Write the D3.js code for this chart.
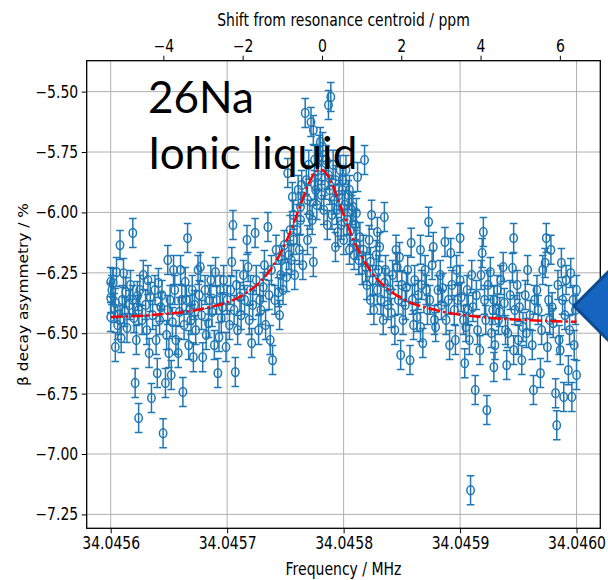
<!DOCTYPE html>
<html>
<head>
<meta charset="utf-8">
<script src="https://cdn.jsdelivr.net/npm/d3@7"></script>
<style>
  body { margin: 0; background: #fff; }
  svg { display: block; font-family: "DejaVu Sans", sans-serif; }
  /* the source figure was stretched a little vertically when pasted */
  .tall { transform-box: fill-box; transform-origin: center; transform: scaleY(1.22); }
  .long { transform-box: fill-box; transform-origin: center; transform: scaleX(1.1); }
</style>
</head>
<body>
<svg id="chart"></svg>
<script>
// values
const baseFreqMHz = 34.0456;   // offsets below are in Hz above this frequency
const centroidHz = 181.4;      // resonance centroid (0 ppm on the top axis)
const errBar = 0.06;           // error bar half-length, %

const freqTicks = [34.0456, 34.0457, 34.0458, 34.0459, 34.0460];
const ppmTicks = [-4, -2, 0, 2, 4, 6];
const asymTicks = [-5.50, -5.75, -6.00, -6.25, -6.50, -6.75, -7.00, -7.25];
const labelLines = ['26Na', 'Ionic liquid'];

// [offset Hz, asymmetry %]
const scanPoints = [
  [0,-6.288],[0,-6.354],[0,-6.433],[1,-6.321],[2,-6.292],[3,-6.396],[4,-6.375],[4,-6.557],[5,-6.247],[6,-6.466],
  [8,-6.135],[8,-6.445],[9,-6.520],[10,-6.362],[11,-6.251],[12,-6.412],[13,-6.330],[14,-6.478],[16,-6.383],[17,-6.300],
  [19,-6.085],[19,-6.362],[20,-6.437],[21,-6.706],[22,-6.528],[23,-6.346],[24,-6.851],[24,-6.404],[25,-6.321],
  [27,-6.445],[28,-6.259],[30,-6.383],[31,-6.487],[32,-6.280],[33,-6.582],[34,-6.350],[35,-6.768],[36,-6.425],[38,-6.321],
  [39,-6.528],[40,-6.665],[41,-6.292],[42,-6.445],[43,-6.392],[44,-6.342],[45,-6.914],[47,-6.706],[48,-6.507],[49,-6.404],
  [49,-6.197],[50,-6.582],[51,-6.362],[52,-6.673],[53,-6.454],[54,-6.238],[55,-6.321],[56,-6.528],[58,-6.582],[59,-6.412],[60,-6.238],
  [61,-6.362],[62,-6.743],[63,-6.466],[64,-6.288],[65,-6.362],[66,-6.106],[67,-6.549],[68,-6.404],[69,-6.445],[70,-6.321],
  [71,-6.599],[72,-6.383],[73,-6.487],[75,-6.238],[76,-6.342],[77,-6.226],[78,-6.425],[79,-6.599],[81,-6.321],[82,-6.507],
  [84,-6.458],[85,-6.362],[86,-6.280],[87,-6.412],[89,-6.549],[90,-6.247],[91,-6.362],[92,-6.665],[93,-6.516],[94,-6.321],
  [95,-6.437],[96,-6.392],[97,-6.280],[99,-6.557],[100,-6.362],[102,-6.466],[103,-6.321],
  [104,-6.205],[105,-6.052],[106,-6.404],[107,-6.661],[108,-6.300],[109,-6.487],[111,-6.350],[112,-6.425],[114,-6.259],[115,-6.362],
  [117,-6.114],[118,-6.226],[119,-6.445],[120,-6.321],[121,-6.541],[122,-6.383],[124,-6.085],[125,-6.280],[127,-6.487],[128,-6.362],
  [129,-6.404],[131,-6.309],[132,-6.218],[133,-6.466],[135,-6.060],[136,-6.342],[137,-6.528],[138,-6.238],[139,-6.611],[141,-6.362],
  [142,-6.155],[144,-6.330],[145,-6.425],[146,-6.259],[147,-6.197],[148,-6.321],[149,-6.135],
  [151,-6.267],[152,-5.837],[153,-6.176],[154,-6.073],[155,-6.197],[156,-5.936],[157,-6.114],[157,-6.010],[158,-6.259],[160,-6.073],
  [161,-5.907],[162,-6.155],[163,-5.977],[163,-6.031],[164,-5.886],[165,-6.218],[167,-5.588],[168,-5.866],[169,-5.948],[169,-6.114],
  [170,-5.803],[171,-6.010],[172,-5.626],[173,-6.031],[174,-6.205],[174,-5.659],[175,-5.886],[175,-5.783],[176,-5.907],[177,-5.969],
  [178,-5.845],[179,-5.741],[180,-5.708],[181,-5.928],[181,-5.824],[182,-5.729],[183,-5.990],[184,-5.886],[185,-5.783],[186,-6.052],
  [187,-5.555],[187,-5.845],[188,-5.907],[189,-5.522],[190,-6.010],[191,-5.803],[192,-5.948],[193,-6.143],[193,-5.866],[194,-5.990],
  [195,-6.081],[196,-5.928],[197,-5.824],[198,-6.052],[199,-5.907],[199,-5.866],[200,-6.114],[201,-5.969],[202,-5.824],[203,-6.031],
  [204,-5.928],[205,-6.155],[205,-5.907],[206,-6.073],[207,-5.990],[208,-5.977],[209,-6.176],[210,-6.052],[211,-6.002],[211,-6.135],
  [212,-5.853],[213,-6.197],[214,-6.102],
  [216,-6.238],[217,-6.155],[218,-5.783],[219,-6.226],[220,-6.300],[222,-6.114],[223,-6.362],[223,-6.205],[224,-6.010],[225,-6.280],
  [226,-6.404],[228,-6.176],[229,-6.321],[229,-6.081],[230,-6.238],[231,-6.143],[232,-6.362],[234,-6.445],[235,-6.292],[235,-6.019],
  [236,-6.238],[238,-6.383],[240,-6.321],[241,-6.416],[242,-6.259],[244,-6.487],[245,-6.155],[246,-6.226],[247,-6.362],[248,-6.185],
  [249,-6.590],[250,-6.300],[251,-6.445],[253,-6.383],[254,-6.309],[255,-6.238],[257,-6.611],[258,-6.126],[259,-6.362],[260,-6.466],
  [261,-6.280],[263,-6.433],[264,-6.342],[266,-6.155],
  [266,-6.474],[267,-6.300],[268,-6.541],[270,-6.238],[271,-6.321],[272,-6.404],[273,-6.039],[274,-6.362],[276,-6.218],[277,-6.143],
  [278,-6.445],[279,-6.474],[281,-6.321],[283,-6.259],[284,-6.383],[285,-6.313],[287,-6.122],[288,-6.445],[290,-6.362],[291,-6.549],
  [292,-6.168],[293,-6.300],[295,-6.404],[296,-6.528],[297,-6.238],[298,-6.362],[300,-6.106],[300,-6.280],[301,-6.350],[303,-6.445],
  [304,-6.624],[305,-6.474],[306,-6.321],[307,-6.404],[308,-6.528],[309,-7.150],[310,-6.259],[311,-6.392],[313,-6.735],[314,-6.342],
  [315,-6.487],[317,-6.570],[318,-6.259],
  [319,-6.168],[320,-6.081],[321,-6.362],[322,-6.445],[323,-6.818],[324,-6.300],[326,-6.247],[327,-6.499],[328,-6.404],[329,-6.640],
  [329,-6.362],[330,-6.549],[332,-6.321],[333,-6.445],[334,-6.412],[335,-6.280],[337,-6.226],[338,-6.375],[339,-6.487],[340,-6.632],
  [341,-6.499],[343,-6.342],[345,-6.230],[346,-6.106],[346,-6.570],[347,-6.404],[349,-6.300],[350,-6.528],[351,-6.392],[353,-6.611],
  [354,-6.474],[356,-6.342],[357,-6.499],[358,-6.238],[360,-6.425],[362,-6.549],[363,-6.735],[364,-6.362],[366,-6.321],[367,-6.404],[369,-6.665],
  [370,-6.487],[371,-6.238],[373,-6.209],[374,-6.106],[375,-6.557],[376,-6.362],[377,-6.445],[378,-6.155],[379,-6.392],[380,-6.458],
  [382,-6.748],[383,-6.881],[384,-6.300],[385,-6.528],[386,-6.570],[387,-6.209],[388,-6.362],[389,-6.764],[390,-6.425],[391,-6.280],
  [393,-6.653],[394,-6.487],[395,-6.251],[396,-6.764],[397,-6.362],[398,-6.549],[399,-6.404],[400,-6.673],[400,-6.321]
];

// red fit line, sampled off the figure: [offset Hz, asymmetry %]
const fitCurve = [
  [0,-6.433],[40,-6.423],[80,-6.398],[110,-6.351],[125,-6.302],[135,-6.251],[145,-6.176],[150,-6.128],[155,-6.071],
  [160,-6.008],[165,-5.942],[170,-5.881],[175,-5.837],[180,-5.822],[185,-5.838],[190,-5.882],[195,-5.943],[200,-6.009],
  [205,-6.073],[210,-6.130],[215,-6.178],[225,-6.254],[235,-6.305],[250,-6.356],[280,-6.405],[320,-6.434],[360,-6.446],[400,-6.453]
];

class ResonanceChart {
  constructor(config_) {
    this.config = {
      svgElement: config_.svgElement,
      width: config_.width,
      height: config_.height,
      margin: config_.margin
    };
    this.initVis();
  }

  initVis() {
    const vis = this;
    vis.width = vis.config.width - vis.config.margin.left - vis.config.margin.right;
    vis.height = vis.config.height - vis.config.margin.top - vis.config.margin.bottom;

    vis.toMHz = hz => baseFreqMHz + hz * 1e-6;
    vis.toPpm = mhz => (mhz - vis.toMHz(centroidHz)) / vis.toMHz(centroidHz) * 1e6;

    vis.xScale = d3.scaleLinear()
      .domain([vis.toMHz(-20.6), vis.toMHz(420.4)])
      .range([0, vis.width]);
    vis.ppmScale = d3.scaleLinear()
      .domain(vis.xScale.domain().map(vis.toPpm))
      .range([0, vis.width]);
    vis.yScale = d3.scaleLinear()
      .domain([-7.3075, -5.372])
      .range([vis.height, 0]);

    vis.svg = d3.select(vis.config.svgElement)
      .attr('width', vis.config.width)
      .attr('height', vis.config.height);

    vis.chart = vis.svg.append('g')
      .attr('transform', `translate(${vis.config.margin.left},${vis.config.margin.top})`);

    vis.renderVis();
  }

  renderVis() {
    const vis = this;
    const blue = '#1f77b4';

    // grid
    vis.chart.append('g').selectAll('line')
      .data(freqTicks)
      .join('line')
      .attr('x1', d => vis.xScale(d)).attr('x2', d => vis.xScale(d))
      .attr('y1', 0).attr('y2', vis.height)
      .attr('stroke', '#b0b0b0').attr('stroke-width', 1);
    vis.chart.append('g').selectAll('line')
      .data(asymTicks)
      .join('line')
      .attr('y1', d => vis.yScale(d)).attr('y2', d => vis.yScale(d))
      .attr('x1', 0).attr('x2', vis.width)
      .attr('stroke', '#b0b0b0').attr('stroke-width', 1);

    // error bars + open markers
    const pts = vis.chart.append('g')
      .attr('stroke', blue)
      .attr('stroke-width', 1.5)
      .attr('fill', 'none');
    const px = d => vis.xScale(vis.toMHz(d[0]));
    pts.selectAll('line')
      .data(scanPoints)
      .join('line')
      .attr('x1', px).attr('x2', px)
      .attr('y1', d => vis.yScale(d[1] + errBar))
      .attr('y2', d => vis.yScale(d[1] - errBar));
    pts.selectAll('path')
      .data(scanPoints)
      .join('path')
      .attr('d', d => {
        const x = px(d), y1 = vis.yScale(d[1] + errBar), y2 = vis.yScale(d[1] - errBar);
        return `M${x - 3.8},${y1}H${x + 3.8}M${x - 3.8},${y2}H${x + 3.8}`;
      });
    pts.selectAll('ellipse')
      .data(scanPoints)
      .join('ellipse')
      .attr('cx', px)
      .attr('cy', d => vis.yScale(d[1]))
      .attr('rx', 3.7)
      .attr('ry', 4.4);

    // fit line
    const line = d3.line()
      .x(d => vis.xScale(vis.toMHz(d[0])))
      .y(d => vis.yScale(d[1]))
      .curve(d3.curveMonotoneX);
    vis.chart.append('path')
      .datum(fitCurve)
      .attr('d', line)
      .attr('fill', 'none')
      .attr('stroke', 'red')
      .attr('stroke-width', 2.5)
      .attr('stroke-dasharray', '12,3,2.5,3');

    // axes
    const styleAxis = g => {
      g.select('.domain').remove();
      g.selectAll('.tick line').attr('stroke', '#000').attr('stroke-width', 1);
      g.selectAll('.tick text').attr('fill', '#000').attr('font-size', 14)
        .attr('font-family', '"DejaVu Sans", sans-serif')
        .attr('class', 'tall');
    };
    vis.chart.append('g')
      .attr('transform', `translate(0,${vis.height})`)
      .call(d3.axisBottom(vis.xScale).tickValues(freqTicks).tickFormat(d3.format('.4f'))
        .tickSize(5).tickPadding(5))
      .call(styleAxis);
    vis.chart.append('g')
      .call(d3.axisTop(vis.ppmScale).tickValues(ppmTicks).tickFormat(d3.format('d'))
        .tickSize(5).tickPadding(5))
      .call(styleAxis);
    vis.chart.append('g')
      .call(d3.axisLeft(vis.yScale).tickValues(asymTicks).tickFormat(d3.format('.2f'))
        .tickSize(5).tickPadding(3.5))
      .call(styleAxis);

    // frame
    vis.chart.append('rect')
      .attr('width', vis.width).attr('height', vis.height)
      .attr('fill', 'none').attr('stroke', '#000').attr('stroke-width', 1.3);

    // axis titles
    vis.svg.append('text')
      .attr('class', 'tall')
      .attr('x', vis.config.margin.left + vis.width / 2).attr('y', 25)
      .attr('text-anchor', 'middle').attr('font-size', 14)
      .text('Shift from resonance centroid / ppm');
    vis.svg.append('text')
      .attr('class', 'tall')
      .attr('x', vis.config.margin.left + vis.width / 2).attr('y', 574)
      .attr('text-anchor', 'middle').attr('font-size', 14)
      .text('Frequency / MHz');
    vis.svg.append('g')
      .attr('transform', `translate(28,${vis.config.margin.top + vis.height / 2}) rotate(-90)`)
      .append('text')
      .attr('class', 'long')
      .attr('text-anchor', 'middle').attr('font-size', 14)
      .text('β decay asymmetry / %');

    // annotation text pasted on the slide
    vis.svg.append('g').selectAll('text')
      .data(labelLines)
      .join('text')
      .attr('x', 148)
      .attr('y', (d, i) => 113 + i * 55.5)
      .attr('font-family', 'Lato, "Open Sans", sans-serif')
      .attr('font-size', 44)
      .attr('fill', '#000')
      .text(d => d);

    // blue arrow shape at the right edge
    vis.svg.append('polygon')
      .attr('points', '574,306 611,269 611,343')
      .attr('fill', '#1565c0')
      .attr('stroke', '#0d4a90')
      .attr('stroke-width', 3)
      .attr('stroke-linejoin', 'miter');
  }
}

new ResonanceChart({
  svgElement: '#chart',
  width: 608,
  height: 580,
  margin: { top: 60.7, right: 7.7, bottom: 51.7, left: 86.7 }
});
</script>
</body>
</html>
